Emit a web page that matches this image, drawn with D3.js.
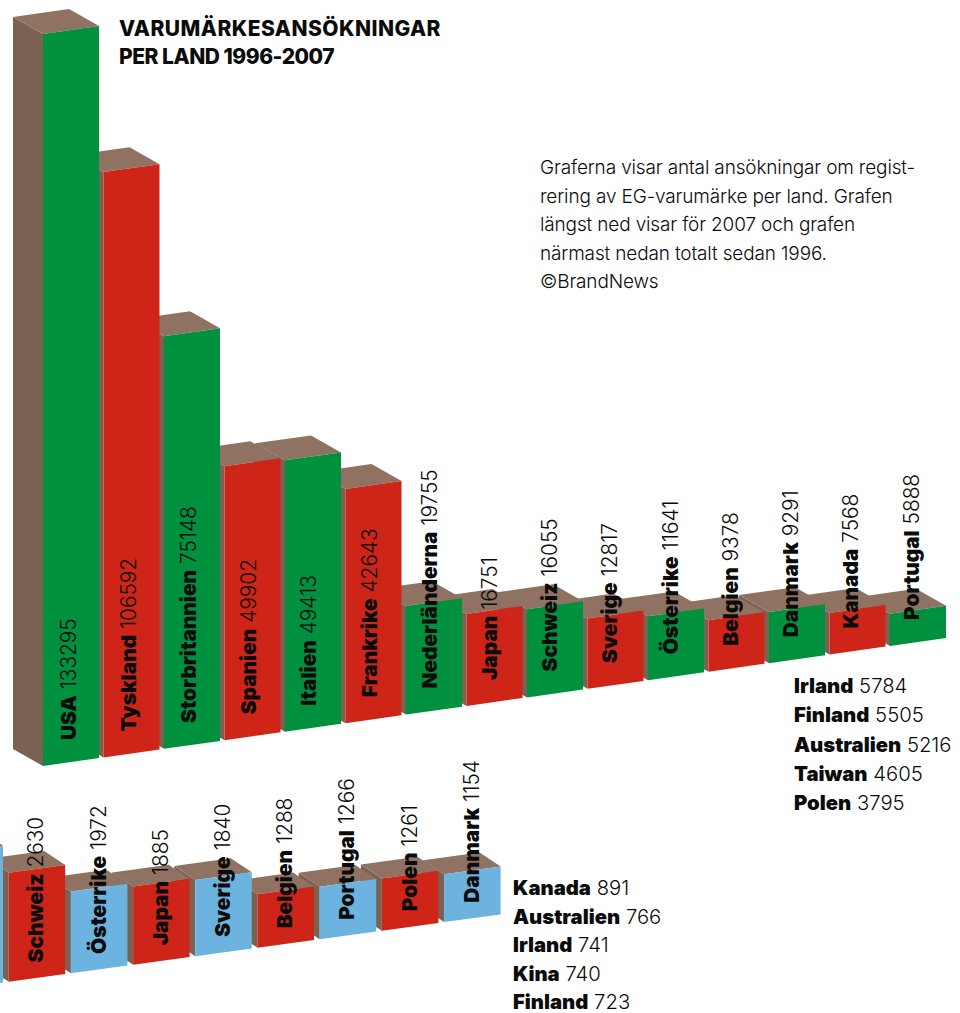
<!DOCTYPE html>
<html lang="sv">
<head>
<meta charset="utf-8">
<title>Varumärkesansökningar per land</title>
<script src="https://cdnjs.cloudflare.com/ajax/libs/d3/7.8.5/d3.min.js"></script>
<style>
  html, body { margin: 0; padding: 0; background: #fff; }
  svg { display: block; }
  text { font-family: Inter, "Liberation Sans", sans-serif; fill: #0b0b0b; }
  .name { font-weight: 900; }
  .num { font-weight: 300; }
</style>
</head>
<body>
<svg id="chart" width="960" height="1013"></svg>
<script>
// Ansökningar totalt sedan 1996
const totalCountries = ["USA", "Tyskland", "Storbritannien", "Spanien", "Italien", "Frankrike", "Nederländerna", "Japan", "Schweiz", "Sverige", "Österrike", "Belgien", "Danmark", "Kanada", "Portugal"];
const totalValues = [133295, 106592, 75148, 49902, 49413, 42643, 19755, 16751, 16055, 12817, 11641, 9378, 9291, 7568, 5888];
const totalRestNames = ["Irland", "Finland", "Australien", "Taiwan", "Polen"];
const totalRestValues = [5784, 5505, 5216, 4605, 3795];

// Ansökningar under 2007; den första stapeln är beskuren vid kanten och saknar etikett
const yearCountries = ["", "Schweiz", "Österrike", "Japan", "Sverige", "Belgien", "Portugal", "Polen", "Danmark"];
const yearValues = [3300, 2630, 1972, 1885, 1840, 1288, 1266, 1261, 1154];
const yearRestNames = ["Kanada", "Australien", "Irland", "Kina", "Finland"];
const yearRestValues = [891, 766, 741, 740, 723];

const titleLines = ["VARUMÄRKESANSÖKNINGAR", "PER LAND 1996-2007"];
const noteLines = [
  "Graferna visar antal ansökningar om regist-",
  "rering av EG-varumärke per land. Grafen",
  "längst ned visar för 2007 och grafen",
  "närmast nedan totalt sedan 1996.",
  "©BrandNews"
];

const GREEN = "#00913f", RED = "#cf2519", BLUE = "#6cb3df";
const SIDE = "#7a6253", TOP = "#8f7262";
const LABEL_SIZE = 20.8, LIST_SIZE = 20.3;

const svg = d3.select("#chart");

// Tecknar en sned stapelrad: framsida, vänstersida och ovansida för varje stapel
function drawRow(cfg) {
  const n = cfg.names.length;
  const x = d3.scaleBand()
    .domain(d3.range(n))
    .range([cfg.x0, cfg.x0 + n * cfg.step - cfg.gap])
    .paddingInner(cfg.gap / cfg.step);
  const h = d3.scaleLinear().domain([0, cfg.maxValue]).range([0, cfg.maxHeight]);
  const base = d3.scaleLinear().domain([cfg.anchorX, cfg.anchorX + 100]).range([cfg.anchorY, cfg.anchorY - cfg.slope * 100]);
  const labelShift = d3.scaleLinear().domain([0, n - 1]).range(cfg.labelDx);
  const w = x.bandwidth();
  const [dx, dy] = cfg.depth;
  const poly = pts => d3.line()(pts) + "Z";

  // Målas från höger till vänster så att varje stapel täcker grannens sida
  const order = d3.range(n).reverse();
  const g = svg.append("g");
  const bars = g.selectAll("g").data(order).join("g");

  bars.append("path").attr("fill", SIDE).attr("d", i => {
    const l = x(i), bl = base(l), tl = bl - h(cfg.values[i]);
    return poly([[l, bl], [l, tl], [l + dx, tl + dy], [l + dx, bl + dy]]);
  });
  bars.append("path").attr("fill", TOP).attr("d", i => {
    const l = x(i), r = l + w, v = h(cfg.values[i]);
    const tl = base(l) - v, tr = base(r) - v;
    return poly([[l, tl], [r, tr], [r + dx, tr + dy], [l + dx, tl + dy]]);
  });
  bars.append("path").attr("fill", i => cfg.colors[i % 2]).attr("d", i => {
    const l = x(i), r = l + w, v = h(cfg.values[i]);
    return poly([[l, base(l)], [r, base(r)], [r, base(r) - v], [l, base(l) - v]]);
  });

  // Etiketterna ligger ovanpå samtliga staplar
  const labels = svg.append("g").selectAll("text")
    .data(d3.range(n).filter(i => cfg.names[i]))
    .join("text")
    .attr("font-size", LABEL_SIZE)
    .attr("transform", i => {
      const c = x(i) + w / 2;
      return `translate(${c + labelShift(i)},${base(c) - cfg.labelDy}) rotate(-90)`;
    });
  labels.append("tspan").attr("class", "name").text(i => cfg.names[i]);
  labels.append("tspan").attr("class", "num").text(i => " " + cfg.values[i]);
}

drawRow({
  names: totalCountries, values: totalValues, colors: [GREEN, RED],
  x0: 43, step: 60.5, gap: 4.5,
  maxValue: 133295, maxHeight: 732,
  anchorX: 43, anchorY: 766, slope: 0.1417,
  depth: [-30, -17], labelDx: [4.5, 0.5], labelDy: 22
});

drawRow({
  names: yearCountries, values: yearValues, colors: [BLUE, RED],
  x0: -53.5, step: 62.2, gap: 5.7,
  maxValue: 2630, maxHeight: 109,
  anchorX: 7, anchorY: 982, slope: 0.137,
  depth: [-21, -14], labelDx: [6.5, 6.5], labelDy: 15.5
});

// Listor med länderna som inte får egna staplar
function drawList(names, values, xPos, yStart, lineStep) {
  const t = svg.append("g").selectAll("text").data(names).join("text")
    .attr("x", xPos)
    .attr("y", (d, i) => yStart + i * lineStep)
    .attr("font-size", LIST_SIZE);
  t.append("tspan").attr("class", "name").text(d => d);
  t.append("tspan").attr("class", "num").text((d, i) => " " + values[i]);
}
drawList(totalRestNames, totalRestValues, 794, 693, 29.3);
drawList(yearRestNames, yearRestValues, 513, 895, 28.5);

// Rubrik
const titleSpacing = [0.45, -0.48];
svg.append("g").selectAll("text").data(titleLines).join("text")
  .attr("x", 119)
  .attr("y", (d, i) => 36 + i * 28)
  .attr("font-size", 21)
  .attr("font-weight", 800)
  .attr("letter-spacing", (d, i) => titleSpacing[i])
  .text(d => d);

// Förklarande text
svg.append("g").selectAll("text").data(noteLines).join("text")
  .attr("x", 540)
  .attr("y", (d, i) => 174 + i * 28.5)
  .attr("font-size", 19)
  .attr("font-weight", 300)
  .attr("letter-spacing", -0.15)
  .text(d => d);
</script>
</body>
</html>
